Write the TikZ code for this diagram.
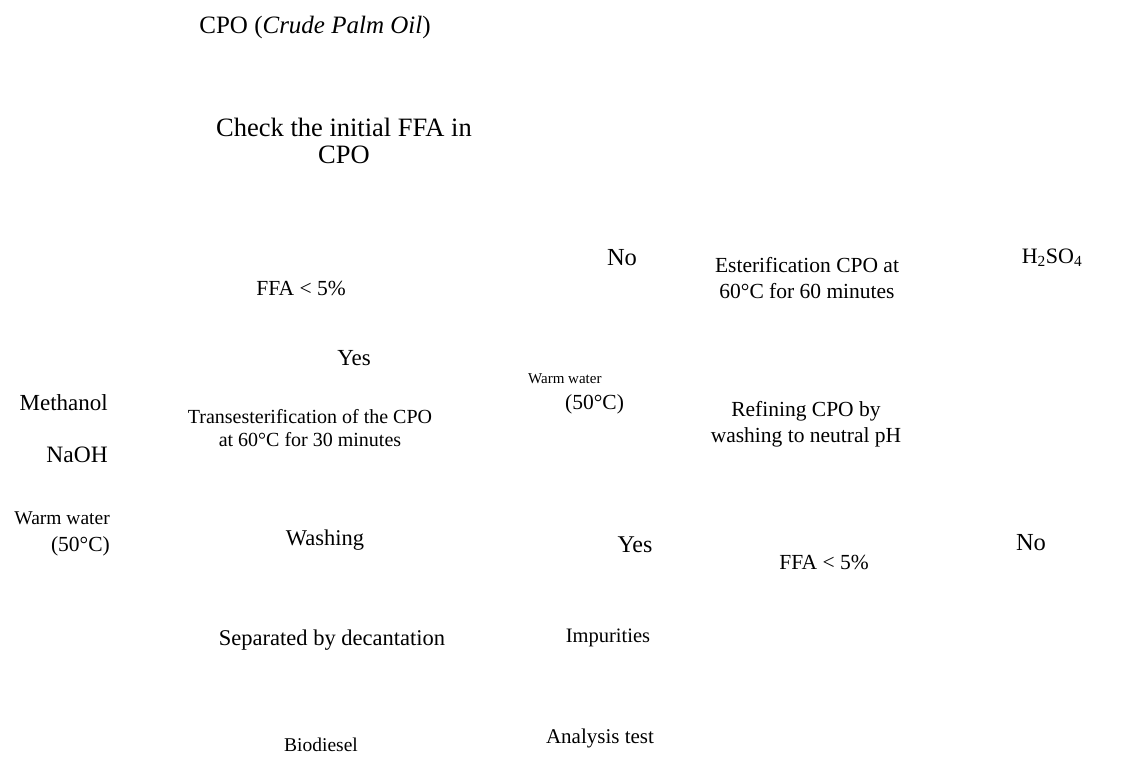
\documentclass[tikz,border=0pt]{standalone}
\usepackage{fontspec}
\setmainfont{Liberation Serif}
\usetikzlibrary{positioning}

\begin{document}
\begin{tikzpicture}[x=1pt, y=-1pt,
    txt/.style={inner sep=0pt, align=center, font=\fontsize{21.5}{26.5}\selectfont},
    big/.style={txt, font=\fontsize{25}{27}\selectfont},
    small/.style={txt, font=\fontsize{15}{25}\selectfont}]
    \useasboundingbox (0,0) rectangle (1130,760);

    % left column: transesterification route
    \node[big] (cpo) at (315,27) {CPO (\textit{Crude Palm Oil})};
    \node[big, font=\fontsize{26.5}{27}\selectfont] (check) at (344,141) {Check the initial FFA in\\CPO};
    \node[txt] (ffa1) at (301,288) {FFA < 5\%};
    \node[txt, font=\fontsize{23}{26}\selectfont] (yes1) at (354,358) {Yes};
    \node[txt, font=\fontsize{20}{23}\selectfont] (trans) at (310,428) {Transesterification of the CPO\\at 60°C for 30 minutes};
    \node[txt, font=\fontsize{22.5}{26}\selectfont] (wash) at (325,540) {Washing};
    \node[txt, font=\fontsize{22.5}{26}\selectfont] (decant) at (332,640) {Separated by decantation};
    \node[txt, font=\fontsize{19.5}{26}\selectfont] (bio) at (321,745) {Biodiesel};

    % inputs
    \node[txt, anchor=east, font=\fontsize{23}{26}\selectfont] (meoh) at (108,403) {Methanol};
    \node[txt, anchor=east, font=\fontsize{23.5}{26}\selectfont] (naoh) at (108,455) {NaOH};
    \node[txt, anchor=east, align=right] (water1) at (110,534)
        {{\fontsize{19.5}{20}\selectfont Warm water}\\(50°C)};

    % middle column
    \node[txt, font=\fontsize{24.5}{26}\selectfont] (no1) at (622,258) {No};
    \node[txt, anchor=west, align=left] (water2) at (528,394)
        {{\fontsize{15}{20}\selectfont Warm water}\\\hspace*{37pt}(50°C)};
    \node[txt, font=\fontsize{24}{26}\selectfont] (yes2) at (635,545) {Yes};
    \node[txt, font=\fontsize{20.5}{26}\selectfont] (imp) at (608,638) {Impurities};
    \node[txt, font=\fontsize{21}{26}\selectfont] (test) at (600,738) {Analysis test};

    % right column: esterification route
    \node[txt] (ester) at (807,278) {Esterification CPO at\\60°C for 60 minutes};
    \node[txt, font=\fontsize{22}{26}\selectfont] (acid) at (1052,258) {H\textsubscript{2}SO\textsubscript{4}};
    \node[txt] (refine) at (806,424) {Refining CPO by\\washing to neutral pH};
    \node[txt] (ffa2) at (824,562) {FFA < 5\%};
    \node[txt, font=\fontsize{24.5}{26}\selectfont] (no2) at (1031,543) {No};
\end{tikzpicture}
\end{document}
